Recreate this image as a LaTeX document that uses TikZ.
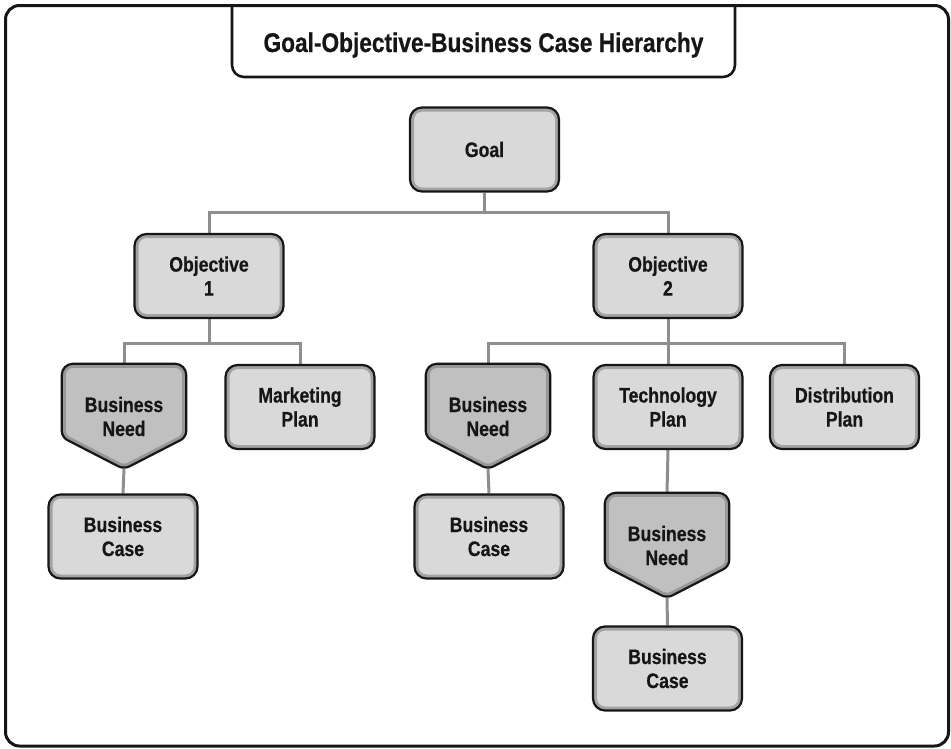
\documentclass[tikz,border=0pt]{standalone}
\usepackage{fontspec}
\newfontfamily\boxfont{Liberation Sans}[UprightFont={* Bold}, FakeStretch=0.84, FakeBold=0.6]
\usetikzlibrary{calc,backgrounds}

\definecolor{ink}{HTML}{161616}
\definecolor{boxfill}{HTML}{D9D9D9}
\definecolor{boxring}{HTML}{A3A3A3}
\definecolor{needfill}{HTML}{C0C0C0}
\definecolor{needring}{HTML}{979797}
\definecolor{wire}{HTML}{8E8E8E}

% pentagon outline built around an invisible rectangular node
\newcommand\pentpath[1]{(#1.north) [rounded corners=11pt] -- (#1.north east)
  [rounded corners=6pt] -- ($(#1.south east)+(0pt,32pt)$) -- (#1.south)
  -- ($(#1.south west)+(0pt,32pt)$) [rounded corners=11pt] -- (#1.north west) -- cycle}
\newcommand\pentshape[1]{%
  \begin{scope}
    \clip \pentpath{#1};
    \fill[needfill] \pentpath{#1};
    \draw[needring, line width=8pt] \pentpath{#1};
  \end{scope}
  \draw[ink, line width=2.2pt] \pentpath{#1};}

\tikzset{
  txt/.style={font=\boxfont\fontsize{21}{24}\selectfont, text=ink, align=center},
  card/.style={txt, rectangle, rounded corners=12pt, minimum width=149pt,
    minimum height=84pt, inner sep=0pt, fill=boxfill, draw=ink, line width=2.2pt,
    path picture={\draw[boxring, line width=8pt, rounded corners=12pt]
      (path picture bounding box.south west) rectangle (path picture bounding box.north east);}},
  need/.style={txt, rectangle, minimum width=124pt, minimum height=105pt, inner sep=0pt},
  wirestyle/.style={wire, line width=3pt},
}

\begin{document}
\begin{tikzpicture}[x=1pt, y=-1pt]
\useasboundingbox (0,0) rectangle (951,748);

% outer frame
\draw[ink, line width=3pt, rounded corners=14pt] (5.5,5.5) rectangle (948.5,746);

% title tab hanging from the frame
\draw[ink, line width=2.6pt, rounded corners=12pt] (232,5.5) -- (232,77) -- (735,77) -- (735,5.5);
\node[font=\boxfont\fontsize{27}{30}\selectfont, text=ink, anchor=base]
  (title) at (483.5,52) {Goal-Objective-Business Case Hierarchy};

% boxes
\node[card] (goal) at (484.5,149.5) {Goal};
\node[card] (obj1) at (209,276) {Objective\\1};
\node[card] (obj2) at (668,276) {Objective\\2};

\node[need] (bn1) at (124,416.5) {Business\\Need};
\node[card] (mp)  at (300,407) {Marketing\\Plan};
\node[card] (bc1) at (123,536.5) {Business\\Case};

\node[need] (bn2) at (488,416.5) {Business\\Need};
\node[card] (tp)  at (668,407) {Technology\\Plan};
\node[card] (dp)  at (844.5,407) {Distribution\\Plan};
\node[card] (bc2) at (489,536.5) {Business\\Case};

\node[need] (bn3) at (667,545.5) {Business\\Need};
\node[card] (bc3) at (667.5,668.5) {Business\\Case};

% junction points of the tree
\coordinate (j1) at (484.5,212);
\coordinate (j2) at (209,343);
\coordinate (j3) at (668,343);

\begin{pgfonlayer}{background}
  \fill[white] (0,0) rectangle (951,748);
  \draw[wirestyle] (goal.south) -- (j1);
  \draw[wirestyle] (obj1.north) |- (j1) -| (obj2.north);
  \draw[wirestyle] (obj1.south) -- (j2);
  \draw[wirestyle] (bn1.north) |- (j2) -| (mp.north);
  \draw[wirestyle] (obj2.south) -- (j3);
  \draw[wirestyle] (bn2.north) |- (j3) -| (dp.north);
  \draw[wirestyle] (j3) -- (tp.north);
  \draw[wirestyle] (bn1.south) -- (bc1.north);
  \draw[wirestyle] (bn2.south) -- (bc2.north);
  \draw[wirestyle] (tp.south) -- (bn3.north);
  \draw[wirestyle] (bn3.south) -- (bc3.north);
  \pentshape{bn1}
  \pentshape{bn2}
  \pentshape{bn3}
\end{pgfonlayer}
\end{tikzpicture}
\end{document}
